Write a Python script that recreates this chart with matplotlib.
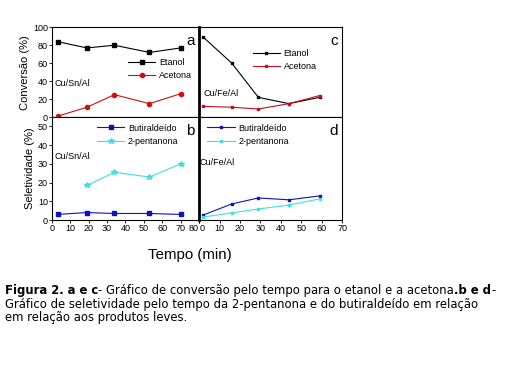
import numpy as np
import matplotlib.pyplot as plt

plt.rcParams['font.family'] = ['Liberation Sans', 'DejaVu Sans']

# Cu/Sn/Al - conversion (a) and selectivity (b)
t_sn = [3, 19, 34, 53, 70]
etanol_sn = [84, 77, 80, 72, 77]
acetona_sn = [1, 11, 25, 15, 26]
t_sn_pent = [19, 34, 53, 70]
butir_sn = [3, 4, 3.5, 3.5, 3]
pent_sn = [18.5, 25.5, 23, 30]

# Cu/Fe/Al - conversion (c) and selectivity (d)
t_fe = [2, 16, 29, 44, 59]
etanol_fe = [89, 60, 22, 15, 22]
acetona_fe = [12, 11, 9, 15, 24]
butir_fe = [2.7, 8.6, 11.8, 10.8, 12.9]
pent_fe = [1.6, 3.8, 5.9, 8, 11.3]

fig = plt.figure(figsize=(5.12, 3.84), dpi=100)

axa = fig.add_axes([0.1016, 0.695, 0.287, 0.234])
axb = fig.add_axes([0.1016, 0.427, 0.287, 0.268])
axc = fig.add_axes([0.389, 0.695, 0.279, 0.234])
axd = fig.add_axes([0.389, 0.427, 0.279, 0.268])

cyan = '#40e0e0'
blue = '#1010c0'
ms = 3

axa.plot(t_sn, etanol_sn, 'k-s', lw=0.8, ms=ms, label='Etanol')
axa.plot(t_sn, acetona_sn, '-o', color='#d01010', lw=0.8, ms=ms, label='Acetona')
axb.plot(t_sn, butir_sn, '-s', color=blue, lw=0.8, ms=ms, label='Butiraldeído')
axb.plot(t_sn_pent, pent_sn, '-*', color=cyan, lw=0.8, ms=ms + 1, label='2-pentanona')

axc.plot(t_fe, etanol_fe, 'k-s', lw=0.8, ms=2, label='Etanol')
axc.plot(t_fe, acetona_fe, '-s', color='#c01020', lw=0.8, ms=2, label='Acetona')
axd.plot(t_fe, butir_fe, '-s', color=blue, lw=0.8, ms=2, label='Butiraldeído')
axd.plot(t_fe, pent_fe, '-s', color=cyan, lw=0.8, ms=2, label='2-pentanona')

for ax in (axa, axc):
    ax.set_ylim(0, 100)
for ax in (axb, axd):
    ax.set_ylim(0, 55)
for ax in (axa, axb):
    ax.set_xlim(0, 80)
for ax in (axc, axd):
    ax.set_xlim(0, 70)

axa.set_yticks([0, 20, 40, 60, 80, 100])
axb.set_yticks([0, 10, 20, 30, 40, 50])
axb.set_xticks(range(0, 81, 10))
axd.set_xticks(range(0, 71, 10))
axa.set_xticks(range(0, 81, 10))
axc.set_xticks(range(0, 71, 10))
axa.tick_params(labelbottom=False)
axc.tick_params(labelbottom=False, labelleft=False, left=False)
axd.tick_params(labelleft=False, left=False)

for ax in (axa, axb, axc, axd):
    ax.tick_params(labelsize=6.5, length=2, width=0.6, pad=1)
    for s in ax.spines.values():
        s.set_linewidth(0.8)
for ax in (axc, axd):
    ax.spines['left'].set_linewidth(2)

# nudge the shared-corner label so "80" and "0" do not collide
axb.get_xticklabels()[-1].set_horizontalalignment('right')
axd.get_xticklabels()[0].set_horizontalalignment('left')

axa.set_ylabel('Conversão (%)', fontsize=8, labelpad=2)
axb.set_ylabel('Seletividade (%)', fontsize=8, labelpad=2)

# panel letters and catalyst labels
for ax, letter in ((axa, 'a'), (axb, 'b'), (axc, 'c'), (axd, 'd')):
    ax.text(0.97, 0.93, letter, transform=ax.transAxes, ha='right', va='top', fontsize=11)
axa.text(0.02, 0.37, 'Cu/Sn/Al', transform=axa.transAxes, fontsize=6.5, va='center')
axb.text(0.02, 0.62, 'Cu/Sn/Al', transform=axb.transAxes, fontsize=6.5, va='center')
axc.text(0.03, 0.26, 'Cu/Fe/Al', transform=axc.transAxes, fontsize=6.5, va='center')
axd.text(0.0, 0.56, 'Cu/Fe/Al', transform=axd.transAxes, fontsize=6.5, va='center')

leg_kw = dict(frameon=False, fontsize=6.5, handlelength=3, handletextpad=0.4,
              labelspacing=0.5, borderpad=0.1)
axa.legend(loc='upper right', bbox_to_anchor=(0.99, 0.72), **leg_kw)
axb.legend(loc='upper left', bbox_to_anchor=(0.27, 0.99), **leg_kw)
axc.legend(loc='upper right', bbox_to_anchor=(0.86, 0.82), **leg_kw)
axd.legend(loc='upper left', bbox_to_anchor=(0.02, 0.99), **leg_kw)

fig.text(0.37, 0.336, 'Tempo (min)', ha='center', va='center', fontsize=10.8)

# caption with bold parts
fs = 8.4
cap_font = ['DejaVu Sans']
fig.canvas.draw()
r = fig.canvas.get_renderer()

def after(prev, s, bold=False):
    bb = prev.get_window_extent(r)
    x = bb.x1 / fig.bbox.width
    y = prev.get_position()[1]
    return fig.text(x, y, s, fontsize=fs, va='baseline', family=cap_font,
                    fontweight='bold' if bold else 'normal')

t1 = fig.text(0.01, 0.234, 'Figura 2. a e c', fontsize=fs, fontweight='bold', va='baseline',
              family=cap_font)
t2 = after(t1, '- Gráfico de conversão pelo tempo para o etanol e a acetona')
t3 = after(t2, '.b e d', bold=True)
t4 = after(t3, '-')
fig.text(0.01, 0.199, 'Gráfico de seletividade pelo tempo da 2-pentanona e do butiraldeído em relação',
         fontsize=fs, va='baseline', family=cap_font)
fig.text(0.01, 0.164, 'em relação aos produtos leves.', fontsize=fs, va='baseline', family=cap_font)

fig.savefig('out.png', dpi=100)
